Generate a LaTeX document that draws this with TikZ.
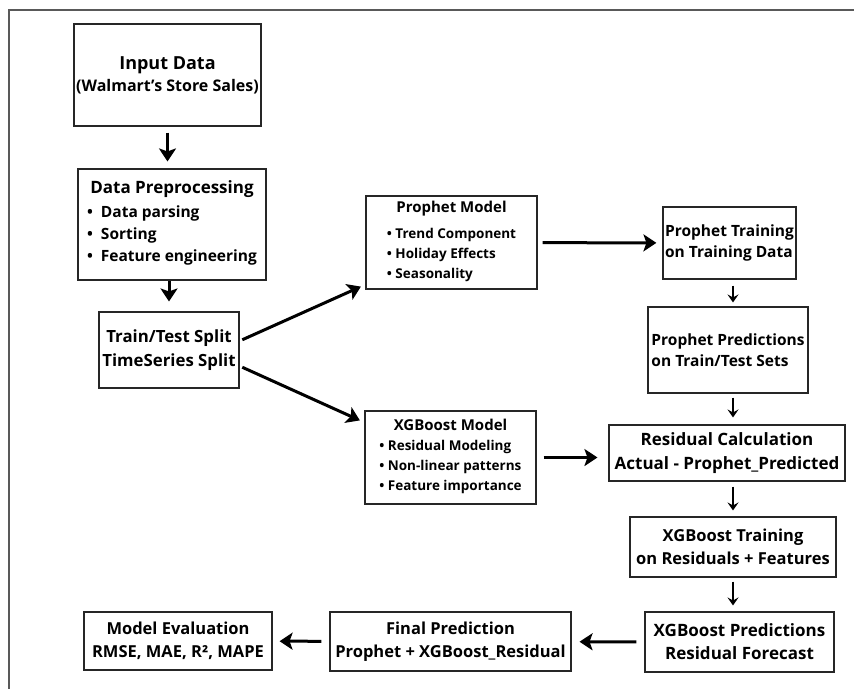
\documentclass[tikz,border=0pt]{standalone}
\usepackage{fontspec}
\setmainfont{Open Sans}
\usetikzlibrary{positioning,arrows.meta}

\begin{document}
\begin{tikzpicture}[
    x=1pt,y=-1pt,
    procbox/.style={
      draw=black!85,line width=1.1pt,align=center,inner sep=2pt,
      font=\bfseries\fontsize{16.5}{23}\selectfont
    },
    leftbox/.style={
      procbox,
      align=left,
      font=\bfseries\fontsize{15.5}{21}\selectfont
    },
    listbox/.style={
      procbox,
      font=\bfseries\fontsize{13.5}{20}\selectfont
    },
    bigarrow/.style={
      line width=3pt,-{Stealth[length=13pt,width=17pt,inset=3pt]}
    },
    smallarrow/.style={
      line width=1.4pt,-{Stealth[length=8pt,width=11pt,inset=3pt]}
    },
    frameline/.style={
      draw=black!65,line width=1.5pt
    }]
      \useasboundingbox (0,0) rectangle (854,689);
      \draw[frameline] (854,10) -- (9,10) -- (9,689);

      % left column
      \node[procbox,font=\bfseries\fontsize{16}{22}\selectfont,
            minimum width=187pt,minimum height=102pt] (input) at (167.5,75)
        {{\fontsize{18}{22}\selectfont Input Data}\\(Walmart’s Store Sales)};
      \node[procbox,font=\bfseries\fontsize{15.5}{22}\selectfont,
            minimum width=188pt,minimum height=111pt] (prep) at (172,224.5)
        {{\fontsize{17}{22}\selectfont Data Preprocessing}\\[4pt]
         \begin{tabular}{@{}l@{}}
           •\hspace{8pt}Data parsing\\
           •\hspace{8pt}Sorting\\
           •\hspace{8pt}Feature engineering
         \end{tabular}};
      \node[procbox,font=\bfseries\fontsize{16.8}{24}\selectfont,
            minimum width=140pt,minimum height=76pt] (split) at (169,350)
        {Train/Test Split\\TimeSeries Split};

      % models
      \node[listbox,minimum width=171pt,minimum height=93pt] (prophet) at (451.5,242.5)
        {{\fontsize{15}{20}\selectfont Prophet Model}\\[7pt]
         \begin{tabular}{@{}l@{}}
           • Trend Component\\
           • Holiday Effects\\
           • Seasonality
         \end{tabular}};
      \node[listbox,minimum width=171pt,minimum height=93pt] (xgbm) at (450.5,457.5)
        {{\fontsize{15}{20}\selectfont XGBoost Model}\\[5pt]
         \begin{tabular}{@{}l@{}}
           • Residual Modeling\\
           • Non-linear patterns\\
           • Feature importance
         \end{tabular}};

      % right column
      \node[leftbox,minimum width=133pt,minimum height=72pt] (ptrain) at (729.5,243)
        {Prophet Training\\on Training Data};
      \node[leftbox,minimum width=160pt,minimum height=86pt] (ppred) at (728,350)
        {Prophet Predictions\\on Train/Test Sets};
      \node[procbox,font=\bfseries\fontsize{17}{24}\selectfont,
            minimum width=236pt,minimum height=56pt] (resid) at (727,453)
        {Residual Calculation\\Actual - Prophet\_Predicted};
      \node[procbox,minimum width=206pt,minimum height=60pt] (xtrain) at (733,547)
        {XGBoost Training\\on Residuals + Features};
      \node[procbox,font=\bfseries\fontsize{17}{23}\selectfont,
            minimum width=189pt,minimum height=60pt] (xpred) at (739.5,642)
        {XGBoost Predictions\\Residual Forecast};

      % bottom row
      \node[procbox,minimum width=241pt,minimum height=59pt] (final) at (450.5,641.5)
        {Final Prediction\\Prophet + XGBoost\_Residual};
      \node[procbox,minimum width=188pt,minimum height=58pt] (eval) at (178,641)
        {Model Evaluation\\RMSE, MAE, R², MAPE};

      \draw[bigarrow,shorten <=6pt,shorten >=7pt] (input.south) -- (input.south |- prep.north);
      \draw[bigarrow,shorten >=10pt] (split.north |- prep.south) -- (split.north);
      \draw[bigarrow,shorten <=3pt,shorten >=5pt] ([yshift=9pt]split.east) -- ([yshift=5pt]prophet.south west);
      \draw[bigarrow,shorten <=3pt,shorten >=5pt] ([yshift=-16pt]split.east) -- ([yshift=-12pt]xgbm.north west);
      \draw[bigarrow,shorten <=5pt,shorten >=6pt] (prophet) -- (ptrain);
      \draw[bigarrow,shorten <=7pt,shorten >=11pt] (xgbm.east) -- (xgbm.east -| resid.west);

      \draw[smallarrow,shorten <=6pt,shorten >=4pt] (ptrain.south -| xtrain.north) -- (ppred.north -| xtrain.north);
      \draw[smallarrow,shorten <=4pt,shorten >=7pt] (ppred.south -| xtrain.north) -- (resid.north -| xtrain.north);
      \draw[smallarrow,shorten <=5pt,shorten >=6pt] (resid.south -| xtrain.north) -- (xtrain.north);
      \draw[smallarrow,shorten <=4pt,shorten >=6pt] (xtrain.south) -- (xtrain.south |- xpred.north);

      \draw[bigarrow,shorten <=8pt,shorten >=8pt] (xpred) -- (final);
      \draw[bigarrow,shorten <=8pt,shorten >=7pt] (final) -- (eval);
\end{tikzpicture}
\end{document}
